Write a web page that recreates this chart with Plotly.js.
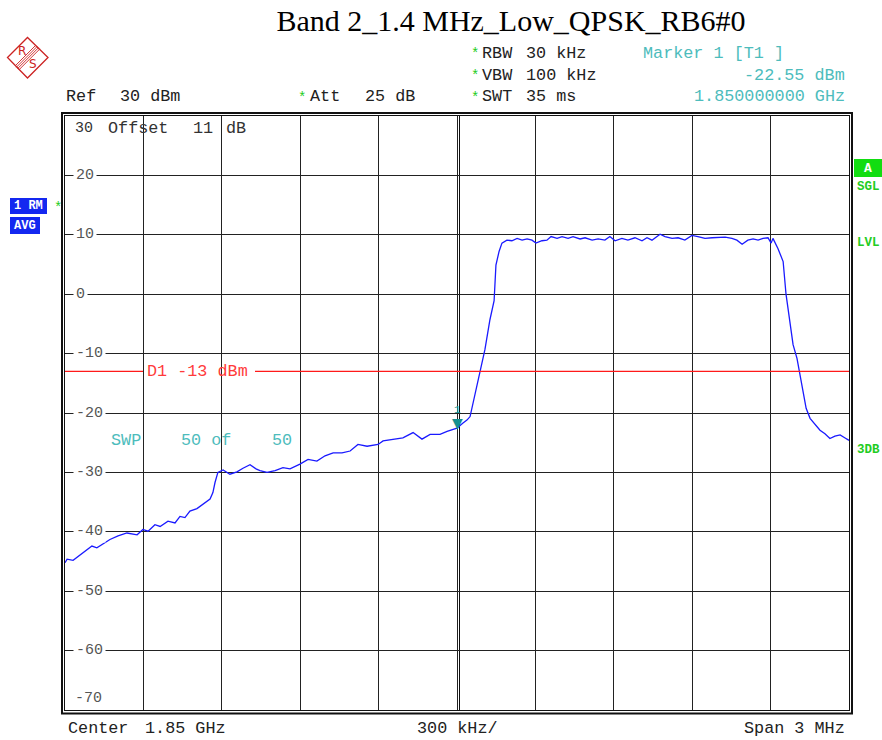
<!DOCTYPE html>
<html><head><meta charset="utf-8">
<script src="https://cdn.plot.ly/plotly-3.0.1.min.js"></script>
<style>html,body{margin:0;padding:0;background:#fff;} #chart{width:882px;height:740px;}</style>
</head><body><div id="chart"></div>
<script>
// ---- data (frequency offset from 1.85 GHz centre, kHz; level dBm) ----
const freqOffsetKHz = [-1500,-1492,-1469,-1443,-1423,-1397,-1378,-1355,-1328,-1297,-1263,-1224,-1202,-1182,-1156,-1136,-1106,-1079,-1060,-1041,-1022,-995,-972,-945,-934,-926,-915,-895,-869,-842,-819,-792,-769,-754,-727,-696,-666,-639,-601,-570,-536,-505,-474,-440,-409,-379,-344,-302,-283,-245,-207,-168,-134,-103,-65,-38,0,23,38,50,65,80,92,107,126,142,149,161,172,191,210,230,249,268,287,302,325,344,360,383,402,425,444,471,490,517,540,566,585,605,631,654,681,708,727,746,777,796,823,846,872,899,922,949,976,999,1026,1052,1071,1091,1113,1133,1152,1171,1190,1202,1209,1228,1240,1248,1259,1274,1286,1301,1313,1324,1336,1351,1370,1389,1408,1427,1446,1466,1485,1500];
const levelDbm = [-45.2,-44.6,-44.8,-43.9,-43.3,-42.4,-42.7,-42.1,-41.3,-40.7,-40.2,-40.5,-39.6,-39.9,-38.8,-39.1,-38.2,-38.5,-37.4,-37.6,-36.5,-36.1,-35.4,-34.5,-33.4,-31.7,-30.0,-29.6,-30.3,-29.9,-29.3,-28.7,-29.4,-29.7,-30.0,-29.7,-29.2,-29.4,-28.6,-27.8,-28.1,-27.2,-26.7,-26.7,-26.4,-25.3,-25.6,-25.3,-24.7,-24.4,-24.2,-23.3,-24.4,-23.6,-23.6,-23.1,-22.55,-21.7,-21.2,-20.6,-17.7,-14.6,-12.1,-9.3,-4.3,-1.1,4.9,7.2,8.6,9.1,9.0,9.4,9.1,9.3,9.1,8.6,9.0,9.1,9.7,9.4,9.7,9.4,9.7,9.3,9.5,9.1,9.3,9.1,9.7,9.0,9.4,9.1,9.5,9.0,9.5,9.1,10.1,9.7,9.4,9.5,9.1,9.9,9.7,9.4,9.5,9.6,9.6,9.4,9.1,8.4,9.1,9.3,9.1,9.4,9.5,8.6,9.4,7.7,6.5,5.5,0.0,-5.1,-8.5,-10.8,-13.6,-16.4,-19.2,-20.9,-22.0,-22.9,-23.5,-24.3,-23.9,-23.7,-24.2,-24.6];
const xTickVals = [-1500,-1200,-900,-600,-300,0,300,600,900,1200,1500];
const yTickVals = [30,20,10,0,-10,-20,-30,-40,-50,-60,-70];
const yTickText = ['30','20','10','0','-10','-20','-30','-40','-50','-60','-70'];
const displayLineDbm = [-13];
const markerFreqKHz = [0];
const markerLevelDbm = [-22.55];

// ---- geometry helpers (pixel -> paper) ----
const L=65,R=849,T=116,B=710;
function px(x){return (x-L)/(R-L);}
function py(y){return (B-y)/(B-T);}
const MONO='Liberation Mono, Courier New, monospace';
const FS=16.8;
const TEAL='#4dbcbc', GRAY='#555', GREEN='#22cc22', BLUE='#1428f0';
function txt(x,y,text,color,size,anchor,extra){
  return Object.assign({xref:'paper',yref:'paper',x:px(x),y:py(y),text:text,showarrow:false,
    xanchor:anchor||'left',yanchor:'middle',font:{family:MONO,size:size||FS,color:color||'#222'}},extra||{});
}
const ann=[];
// header
[[53,'RBW','30 kHz'],[75,'VBW','100 kHz'],[97,'SWT','35 ms']].forEach(r=>{
  ann.push(txt(469,r[0]+1,'*',GREEN,14));
  ann.push(txt(480,r[0],r[1],'#222',FS));
  ann.push(txt(524,r[0],r[2],'#222',FS));
});
ann.push(txt(641,53,'Marker 1 [T1 ]',TEAL,FS));
ann.push(txt(847,75,'-22.55 dBm',TEAL,FS,'right'));
ann.push(txt(847,97,'1.850000000 GHz',TEAL,FS,'right'));
ann.push(txt(64,97,'Ref',  '#222',FS));
ann.push(txt(118,97,'30 dBm','#222',FS));
ann.push(txt(296,98,'*',GREEN,14));
ann.push(txt(308,97,'Att','#222',FS));
ann.push(txt(363,97,'25 dB','#222',FS));
// inside plot
ann.push(txt(106,128,'Offset','#333',FS));
ann.push(txt(191,128,'11','#333',FS));
ann.push(txt(224,128,'dB','#333',FS));
ann.push(txt(109,440,'SWP',TEAL,FS));
ann.push(txt(179,440,'50 of',TEAL,FS));
ann.push(txt(270,440,'50',TEAL,FS));
ann.push({xref:'paper',yref:'y',x:px(145),y:displayLineDbm[0],text:'D1 -13 dBm',showarrow:false,xanchor:'left',yanchor:'middle',font:{family:MONO,size:FS,color:'#ff3b3b'}});
// bottom
ann.push(txt(66,728,'Center','#222',FS));
ann.push(txt(143,728,'1.85 GHz','#222',FS));
ann.push(txt(415,728,'300 kHz/','#222',FS));
ann.push(txt(847,728,'Span 3 MHz','#222',FS,'right'));
// y tick labels inside plot
yTickVals.forEach((v,i)=>{
  const a={xref:'paper',yref:'y',x:px(73),y:v,text:yTickText[i],showarrow:false,xanchor:'left',yanchor:'middle',
    font:{family:MONO,size:15,color:(v===30?'#333':GRAY)}};
  if(v===30){a.yshift=-12;}
  else if(v===-70){a.yshift=12;}
  else {a.bgcolor='#fff';a.borderpad=2;}
  ann.push(a);
});
// marker
ann.push({xref:'x',yref:'y',x:markerFreqKHz[0],y:markerLevelDbm[0],text:'▼',showarrow:false,xanchor:'center',yanchor:'bottom',yshift:-5,font:{family:'DejaVu Sans',size:14,color:'#159090'}});
ann.push({xref:'x',yref:'y',x:markerFreqKHz[0],y:markerLevelDbm[0],text:'1',showarrow:false,xanchor:'center',yanchor:'bottom',yshift:10,font:{family:MONO,size:11,color:'#159090'}});
// side labels
ann.push(txt(28.5,206,'1 RM','#fff',12,'center',{font:{family:MONO,size:12,color:'#fff',weight:'bold'}}));
ann.push(txt(52,208,'*',GREEN,14));
ann.push(txt(25,225.5,'AVG','#fff',12,'center',{font:{family:MONO,size:12,color:'#fff',weight:'bold'}}));
ann.push(txt(868,168,'A','#fff',13,'center',{font:{family:MONO,size:13,color:'#fff',weight:'bold'}}));
['SGL','LVL','3DB'].forEach((s,i)=>{
  ann.push(txt(855,[187,243,450][i],s,GREEN,12,'left',{font:{family:MONO,size:12.5,color:GREEN,weight:'bold'}}));
});
// logo letters
ann.push(txt(22,51,'R','#cc2222',13,'center',{font:{family:'DejaVu Sans',size:12,color:'#cc2222'}}));
ann.push(txt(33,64,'S','#cc2222',13,'center',{font:{family:'DejaVu Sans',size:12,color:'#cc2222'}}));

// shapes
const shp=[];
shp.push({type:'rect',xref:'paper',yref:'paper',x0:px(62),x1:px(852),y0:py(713.5),y1:py(113),line:{color:'#111',width:2},layer:'above'});
shp.push({type:'line',xref:'paper',yref:'paper',x0:px(459.5),x1:px(459.5),y0:0,y1:1,line:{color:'#111',width:1},layer:'below'});
shp.push({type:'line',xref:'paper',yref:'y',x0:0,x1:px(143),y0:displayLineDbm[0],y1:displayLineDbm[0],line:{color:'#ff1a1a',width:1.2},layer:'above'});
shp.push({type:'line',xref:'paper',yref:'y',x0:px(255),x1:1,y0:displayLineDbm[0],y1:displayLineDbm[0],line:{color:'#ff1a1a',width:1.2},layer:'above'});
shp.push({type:'rect',xref:'paper',yref:'paper',x0:px(10),x1:px(47),y0:py(214),y1:py(198),fillcolor:BLUE,line:{width:0}});
shp.push({type:'rect',xref:'paper',yref:'paper',x0:px(10),x1:px(40),y0:py(234),y1:py(217),fillcolor:BLUE,line:{width:0}});
shp.push({type:'rect',xref:'paper',yref:'paper',x0:px(854),x1:px(882),y0:py(177),y1:py(159),fillcolor:'#11dd11',line:{width:0}});
// logo diamond
function P(x,y){return px(x)+','+py(y);}
shp.push({type:'path',xref:'paper',yref:'paper',path:'M'+P(7.5,57.5)+' L'+P(27.5,37.5)+' L'+P(48,57.5)+' L'+P(27.5,78)+' Z',line:{color:'#cc2222',width:1.3}});
[-2,-0.7,0.6,1.9].forEach(k=>{
  shp.push({type:'line',xref:'paper',yref:'paper',x0:px(17+k),y0:py(68+k),x1:px(38+k),y1:py(47+k),line:{color:'#cc2222',width:0.9}});
});

const data=[{type:'scatter',mode:'lines',x:freqOffsetKHz,y:levelDbm,line:{color:'#1a1aff',width:1.3},hoverinfo:'skip'}];
const layout={
  width:882,height:740,margin:{l:65,r:33,t:116,b:30},paper_bgcolor:'#fff',plot_bgcolor:'#fff',showlegend:false,
  title:{text:'Band 2_1.4 MHz_Low_QPSK_RB6#0',font:{family:'Liberation Serif, Times New Roman, serif',size:30,color:'#000'},
    x:511/882,xanchor:'center',y:1-20/740,yanchor:'middle'},
  xaxis:{range:[-1500,1500],tickvals:xTickVals,showticklabels:false,ticks:'',showgrid:true,gridcolor:'#222',gridwidth:1,
    zeroline:false,showline:true,linecolor:'#111',linewidth:1,mirror:true,fixedrange:true},
  yaxis:{range:[-70,30],tickvals:yTickVals,showticklabels:false,ticks:'',showgrid:true,gridcolor:'#222',gridwidth:1,
    zeroline:false,showline:true,linecolor:'#111',linewidth:1,mirror:true,fixedrange:true},
  annotations:ann,shapes:shp
};
Plotly.newPlot('chart',data,layout,{displayModeBar:false,staticPlot:true});
</script></body></html>
